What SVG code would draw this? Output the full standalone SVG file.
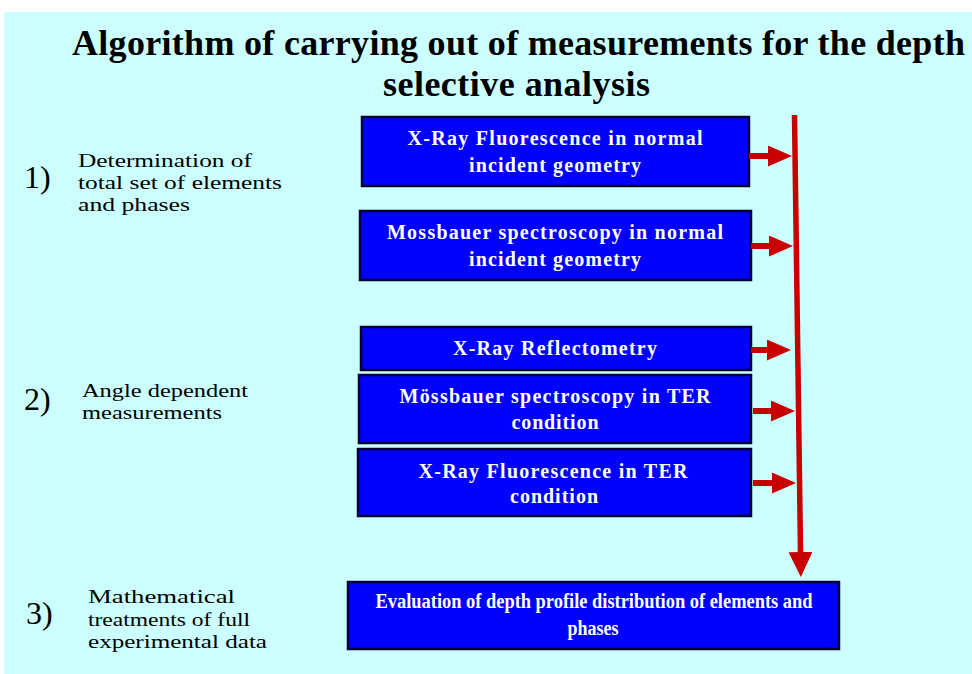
<svg xmlns="http://www.w3.org/2000/svg" width="972" height="674" viewBox="0 0 972 674">
  <style>
    .title { font-family: "Liberation Serif", "Times New Roman", serif; font-weight: bold; font-size: 36px; fill: #000000; }
    .box rect { fill: #0000FF; stroke: #000033; stroke-width: 2.5; }
    .box text { font-family: "Liberation Serif", "Times New Roman", serif; font-weight: bold; font-size: 20px; fill: #FFFFFF; text-anchor: middle; }
    .step { font-family: "Liberation Serif", "Times New Roman", serif; font-size: 19.5px; fill: #000000; }
    .num { font-family: "Liberation Serif", "Times New Roman", serif; font-size: 32px; fill: #000000; }
    .conn { stroke: #C80000; fill: none; }
  </style>
  <defs>
    <marker id="headH" markerUnits="userSpaceOnUse" markerWidth="24" markerHeight="21" refX="0" refY="10.5" orient="auto">
      <path d="M0,0 L24,10.5 L0,21 z" fill="#C80000"/>
    </marker>
    <marker id="headV" markerUnits="userSpaceOnUse" markerWidth="25" markerHeight="24" refX="0" refY="12" orient="auto">
      <path d="M0,0 L25,12 L0,24 z" fill="#C80000"/>
    </marker>
  </defs>

  <!-- page -->
  <rect x="0" y="0" width="972" height="674" fill="#FFFFFF"/>
  <rect x="4" y="12" width="968" height="662" fill="#CCFFFF"/>

  <!-- heading -->
  <g id="title">
    <text class="title" x="72" y="55" textLength="893">Algorithm of carrying out of measurements for the depth</text>
    <text class="title" x="383" y="96" textLength="267">selective analysis</text>
  </g>

  <!-- stage labels -->
  <g id="stage1">
    <text class="num" x="24" y="188">1)</text>
    <text class="step" x="78" y="167" textLength="174" lengthAdjust="spacingAndGlyphs">Determination of</text>
    <text class="step" x="78" y="189" textLength="204" lengthAdjust="spacingAndGlyphs">total set of elements</text>
    <text class="step" x="78" y="211" textLength="112" lengthAdjust="spacingAndGlyphs">and phases</text>
  </g>
  <g id="stage2">
    <text class="num" x="24" y="410">2)</text>
    <text class="step" x="82" y="397" textLength="166" lengthAdjust="spacingAndGlyphs">Angle dependent</text>
    <text class="step" x="82" y="419" textLength="140" lengthAdjust="spacingAndGlyphs">measurements</text>
  </g>
  <g id="stage3">
    <text class="num" x="26" y="624">3)</text>
    <text class="step" x="88" y="603" textLength="147" lengthAdjust="spacingAndGlyphs">Mathematical</text>
    <text class="step" x="88" y="626" textLength="162" lengthAdjust="spacingAndGlyphs">treatments of full</text>
    <text class="step" x="88" y="648" textLength="179" lengthAdjust="spacingAndGlyphs">experimental data</text>
  </g>

  <!-- measurement boxes -->
  <g id="xrf-normal" class="box">
    <rect x="362" y="117" width="387" height="69"/>
    <text x="555" y="145" textLength="295">X-Ray Fluorescence in normal</text>
    <text x="555" y="172" textLength="172">incident geometry</text>
  </g>
  <g id="moss-normal" class="box">
    <rect x="360" y="211" width="391" height="69"/>
    <text x="555" y="239" textLength="336">Mossbauer spectroscopy in normal</text>
    <text x="555" y="266" textLength="172">incident geometry</text>
  </g>
  <g id="xrr" class="box">
    <rect x="361" y="327" width="390" height="43"/>
    <text x="555" y="355" textLength="204">X-Ray Reflectometry</text>
  </g>
  <g id="moss-ter" class="box">
    <rect x="359" y="375" width="392" height="68"/>
    <text x="555" y="403" textLength="311">Mössbauer spectroscopy in TER</text>
    <text x="555" y="429" textLength="87">condition</text>
  </g>
  <g id="xrf-ter" class="box">
    <rect x="358" y="449" width="393" height="67"/>
    <text x="553" y="478" textLength="269">X-Ray Fluorescence in TER</text>
    <text x="554" y="503" textLength="88">condition</text>
  </g>
  <g id="evaluation" class="box">
    <rect x="348" y="582" width="491" height="67"/>
    <text x="594" y="608" textLength="437" lengthAdjust="spacingAndGlyphs">Evaluation of depth profile distribution of elements and</text>
    <text x="593" y="635" textLength="51" lengthAdjust="spacingAndGlyphs">phases</text>
  </g>

  <!-- connectors -->
  <g id="connectors" class="conn">
    <line x1="794.5" y1="115" x2="800.5" y2="552" stroke-width="5.5" marker-end="url(#headV)"/>
    <line x1="749" y1="156" x2="768" y2="156" stroke-width="6" marker-end="url(#headH)"/>
    <line x1="751" y1="246" x2="769" y2="246" stroke-width="6" marker-end="url(#headH)"/>
    <line x1="751" y1="350" x2="767" y2="350" stroke-width="6" marker-end="url(#headH)"/>
    <line x1="753" y1="411" x2="771" y2="411" stroke-width="6" marker-end="url(#headH)"/>
    <line x1="753" y1="483" x2="772" y2="483" stroke-width="6" marker-end="url(#headH)"/>
  </g>
</svg>
